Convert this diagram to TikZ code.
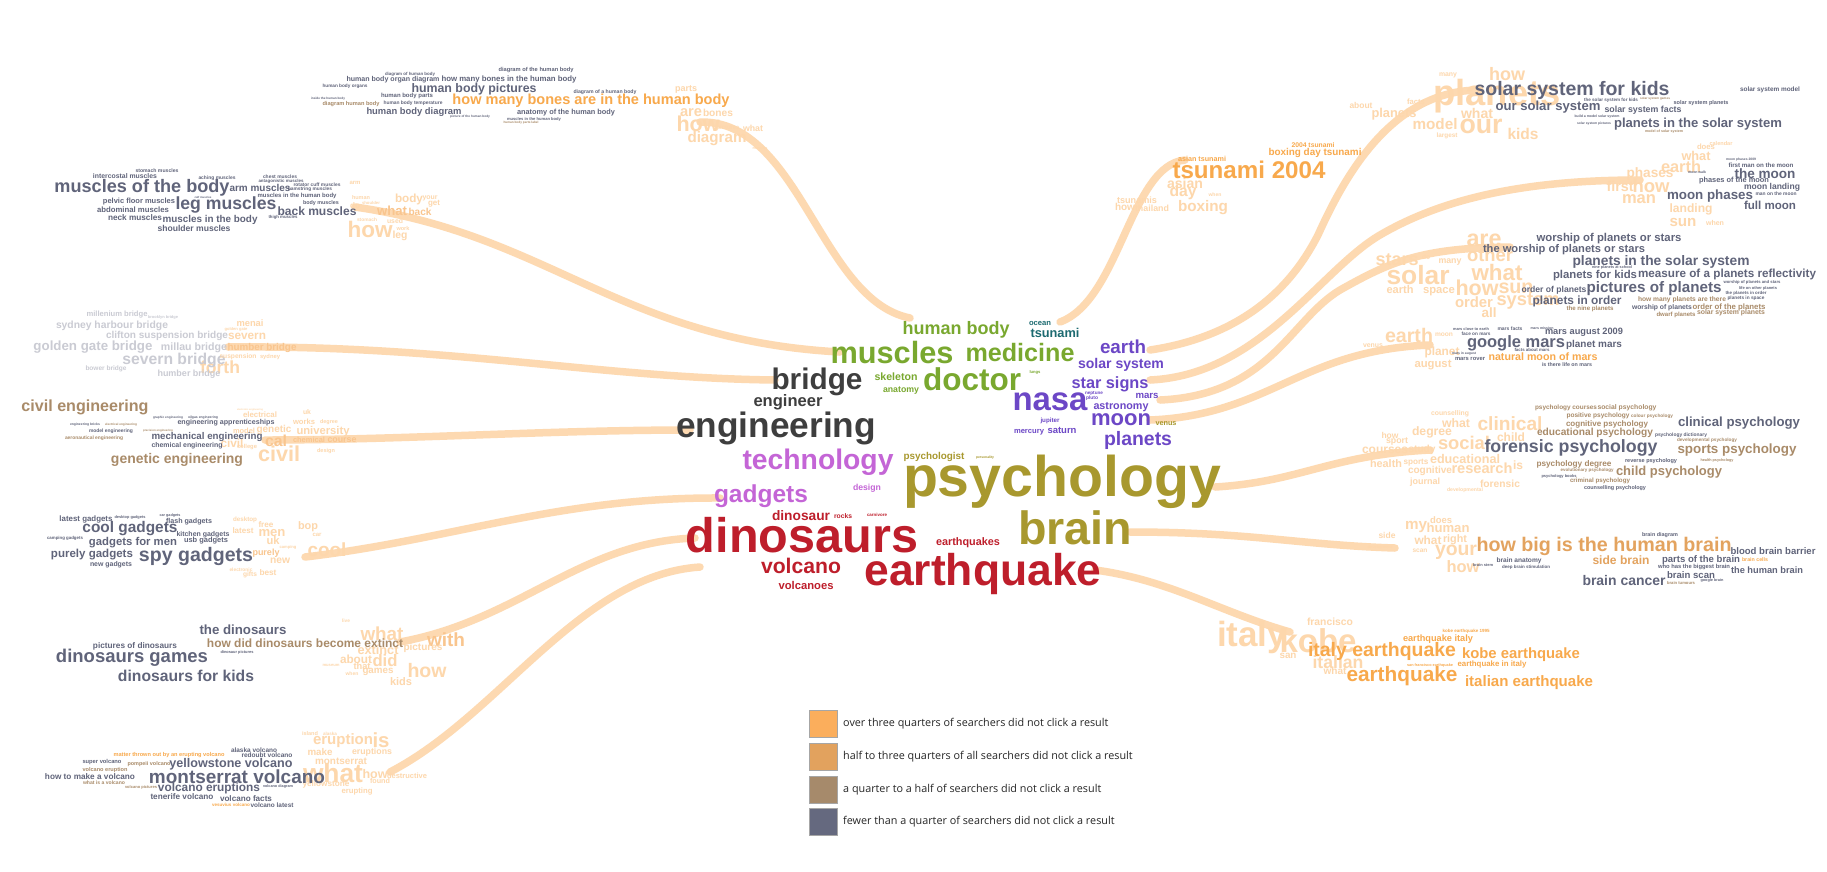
\documentclass[tikz,border=0pt]{standalone}
\usepackage{fontspec}
\usepackage{graphicx}
\setmainfont{Liberation Sans}
\newfontfamily\legfont{Open Sans}
\definecolor{cgreen}{HTML}{79A82F}
\definecolor{cteal}{HTML}{1C6A70}
\definecolor{cpurple}{HTML}{6C47C6}
\definecolor{cdark}{HTML}{3E3E3E}
\definecolor{cmag}{HTML}{C465D6}
\definecolor{colive}{HTML}{A8982E}
\definecolor{cred}{HTML}{BE1E2B}
\definecolor{cg}{HTML}{60647A}
\definecolor{ct}{HTML}{A98B69}
\definecolor{co}{HTML}{F8A94C}
\definecolor{coo}{HTML}{E3A35F}
\definecolor{cf}{HTML}{FDD7AC}
\definecolor{cff}{HTML}{F9C58E}
\definecolor{cfg}{HTML}{CACBD3}
\definecolor{cband}{HTML}{FDD3A4}
\definecolor{lga}{HTML}{FBAE5C}
\definecolor{lgb}{HTML}{E2A25E}
\definecolor{lgc}{HTML}{A68A6B}
\definecolor{lgd}{HTML}{65697F}
\newcommand{\cwd}[6]{\node[cwn,text=#5] (#1) at (#2,#3) {\resizebox{#4pt}{!}{#6}};}
\tikzset{
  cwn/.style={inner sep=0pt, outer sep=0pt, anchor=center, font=\bfseries},
  band/.style={line width=7.5pt, draw=cband, line cap=round, opacity=0.85},
  lbox/.style={minimum width=28pt, minimum height=27pt, inner sep=0pt, draw=black!35, line width=0.6pt},
  ltext/.style={anchor=west, inner sep=0pt, text=black!85, font=\legfont\fontsize{10.8}{12}\selectfont}
}
\begin{document}
\begin{tikzpicture}[x=1pt,y=-1pt]
\fill[white] (0,0) rectangle (1827,871);
\useasboundingbox (0,0) rectangle (1827,871);
% ---------- connectors ----------
\coordinate (hb1) at (700,122); \coordinate (hb2) at (910,318);
\coordinate (mu1) at (355,207); \coordinate (mu2) at (840,352);
\coordinate (br1) at (228,347); \coordinate (br2) at (775,380);
\coordinate (en1) at (265,440); \coordinate (en2) at (690,430);
\coordinate (ga1) at (305,557); \coordinate (ga2) at (720,498);
\coordinate (di1) at (400,642); \coordinate (di2) at (695,538);
\coordinate (vo1) at (390,772); \coordinate (vo2) at (700,567);
\coordinate (ts1) at (1060,322); \coordinate (ts2) at (1185,160);
\coordinate (so1) at (1150,350); \coordinate (so2) at (1480,90);
\coordinate (mo1) at (1150,380); \coordinate (mo2) at (1640,180);
\coordinate (wo1) at (1160,400); \coordinate (wo2) at (1510,247);
\coordinate (ma1) at (1150,420); \coordinate (ma2) at (1430,345);
\coordinate (ps1) at (1215,487); \coordinate (ps2) at (1430,450);
\coordinate (bn1) at (1130,532); \coordinate (bn2) at (1395,548);
\coordinate (eq1) at (1095,570); \coordinate (eq2) at (1290,632);
\draw[band] (hb1) .. controls (800,120) and (820,300) .. (hb2);
\draw[band] (mu1) .. controls (550,235) and (620,340) .. (mu2);
\draw[band] (br1) .. controls (450,345) and (600,378) .. (br2);
\draw[band] (en1) .. controls (400,440) and (550,430) .. (en2);
\draw[band] (ga1) .. controls (450,540) and (560,497) .. (ga2);
\draw[band] (di1) .. controls (520,620) and (580,542) .. (di2);
\draw[band] (vo1) .. controls (500,715) and (580,575) .. (vo2);
\draw[band] (ts1) .. controls (1120,300) and (1130,165) .. (ts2);
\draw[band] (so1) .. controls (1250,335) and (1295,280) .. (1318,235) .. controls (1343,180) and (1390,90) .. (so2);
\draw[band] (mo1) .. controls (1260,375) and (1320,270) .. (1380,235) .. controls (1440,200) and (1520,180) .. (mo2);
\draw[band] (wo1) .. controls (1270,395) and (1290,320) .. (1340,290) .. controls (1390,262) and (1420,248) .. (wo2);
\draw[band] (ma1) .. controls (1270,415) and (1300,350) .. (ma2);
\draw[band] (ps1) .. controls (1300,482) and (1330,455) .. (ps2);
\draw[band] (bn1) .. controls (1250,532) and (1300,545) .. (bn2);
\draw[band] (eq1) .. controls (1170,580) and (1220,612) .. (eq2);
% ---------- centre ----------
\cwd{c1}{956}{330}{107}{cgreen}{human body}
\cwd{c2}{1040}{323}{22}{cteal}{ocean}
\cwd{c3}{1055}{333}{49}{cteal}{tsunami}
\cwd{c4}{892}{353}{123}{cgreen}{muscles}
\cwd{c5}{1020}{353}{109}{cgreen}{medicine}
\cwd{c6}{1123}{347}{46}{cpurple}{earth}
\cwd{c7}{1121}{365}{86}{cpurple}{solar system}
\cwd{c8}{817}{382}{91}{cdark}{bridge}
\cwd{c9}{896}{377}{43}{cgreen}{skeleton}
\cwd{c10}{901}{391}{36}{cgreen}{anatomy}
\cwd{c11}{972}{379}{98}{cgreen}{doctor}
\cwd{c12}{1110}{384}{77}{cpurple}{star signs}
\cwd{c13}{788}{402}{69}{cdark}{engineer}
\cwd{c14}{1050}{402}{75}{cpurple}{nasa}
\cwd{c15}{1147}{396}{23}{cpurple}{mars}
\cwd{c16}{1121}{407}{55}{cpurple}{astronomy}
\cwd{c17}{776}{428}{200}{cdark}{engineering}
\cwd{c18}{1121}{420}{60}{cpurple}{moon}
\cwd{c19}{1166}{424}{21}{colive}{venus}
\cwd{c20}{1050}{421}{19}{cpurple}{jupiter}
\cwd{c21}{1029}{432}{30}{cpurple}{mercury}
\cwd{c22}{1062}{430}{29}{cpurple}{saturn}
\cwd{c23}{1138}{440}{68}{cpurple}{planets}
\cwd{c24}{818}{462}{151}{cmag}{technology}
\cwd{c25}{934}{457}{61}{colive}{psychologist}
\cwd{c26}{985}{458}{18}{colive}{personality}
\cwd{c27}{1062}{482}{318}{colive}{psychology}
\cwd{c28}{761}{496}{94}{cmag}{gadgets}
\cwd{c29}{867}{488}{28}{cmag}{design}
\cwd{c30}{801}{516}{58}{cred}{dinosaur}
\cwd{c31}{843}{516}{18}{cred}{rocks}
\cwd{c32}{877}{515}{20}{cred}{carnivore}
\cwd{c33}{802}{535}{232}{cred}{dinosaurs}
\cwd{c34}{1075}{528}{114}{colive}{brain}
\cwd{c35}{968}{543}{64}{cred}{earthquakes}
\cwd{c36}{801}{566}{80}{cred}{volcano}
\cwd{c37}{983}{574}{237}{cred}{earthquake}
\cwd{c38}{806}{585}{55}{cred}{volcanoes}
\cwd{c39}{1035}{372}{11}{cgreen}{lungs}
\cwd{c40}{1094}{393}{18}{cpurple}{neptune}
\cwd{c41}{1092}{398}{12}{cpurple}{pluto}
% ---------- human body ----------
\cwd{hf1}{686}{89}{22}{cf}{parts}
\cwd{hf2}{691}{113}{22}{cf}{are}
\cwd{hf3}{718}{113}{30}{cf}{bones}
\cwd{hf4}{698}{124}{43}{cf}{how}
\cwd{hf5}{717}{139}{59}{cf}{diagram}
\cwd{hf6}{753}{128}{20}{cf}{what}
\cwd{hf7}{728}{128}{23}{cf}{pictures}
\cwd{hf8}{760}{148}{15}{cf}{muscles}
\cwd{h1}{536}{70}{75}{cg}{diagram of the human body}
\cwd{h2}{410}{74}{50}{cg}{diagram of human body}
\cwd{h3}{393}{80}{93}{cg}{human body organ diagram}
\cwd{h4}{509}{79}{135}{cg}{how many bones in the human body}
\cwd{h5}{345}{86}{45}{cg}{human body organs}
\cwd{h6}{474}{89}{125}{cg}{human body pictures}
\cwd{h7}{605}{92}{63}{cg}{diagram of a human body}
\cwd{h8}{407}{96}{52}{cg}{human body parts}
\cwd{h9}{591}{101}{277}{co}{how many bones are in the human body}
\cwd{h10}{328}{99}{34}{cg}{inside the human body}
\cwd{h11}{351}{104}{57}{ct}{diagram human body}
\cwd{h12}{413}{103}{59}{cg}{human body temperature}
\cwd{h13}{414}{112}{95}{cg}{human body diagram}
\cwd{h14}{566}{113}{98}{cg}{anatomy of the human body}
\cwd{h15}{534}{119}{54}{cg}{muscles in the human body}
\cwd{h16}{521}{123}{35}{ct}{human body parts label}
\cwd{h17}{470}{117}{40}{cg}{picture of the human body}
% ---------- muscles ----------
\cwd{mf1}{409}{199}{28}{cf}{body}
\cwd{mf2}{430}{198}{15}{cf}{your}
\cwd{mf3}{392}{211}{30}{cff}{what}
\cwd{mf4}{370}{229}{45}{cf}{how}
\cwd{mf5}{400}{236}{15}{cf}{leg}
\cwd{mf6}{420}{212}{23}{cff}{back}
\cwd{mf7}{355}{183}{11}{cf}{arm}
\cwd{mf8}{434}{204}{12}{cf}{get}
\cwd{mf9}{355}{206}{10}{cf}{do}
\cwd{mf10}{367}{220}{20}{cf}{stomach}
\cwd{mf11}{395}{221}{16}{cf}{used}
\cwd{mf12}{403}{229}{13}{cf}{work}
\cwd{mf13}{361}{198}{18}{cf}{human}
\cwd{mf14}{371}{203}{18}{cf}{shoulder}
\cwd{u1}{157}{171}{43}{cg}{stomach muscles}
\cwd{u2}{125}{176}{64}{cg}{intercostal muscles}
\cwd{u3}{217}{178}{37}{cg}{aching muscles}
\cwd{u4}{280}{177}{34}{cg}{chest muscles}
\cwd{u5}{281}{181}{45}{cg}{antagonistic muscles}
\cwd{u6}{317}{185}{47}{cg}{rotator cuff muscles}
\cwd{u7}{310}{189}{44}{cg}{hamstring muscles}
\cwd{u8}{142}{188}{175}{cg}{muscles of the body}
\cwd{u9}{260}{188}{61}{cg}{arm muscles}
\cwd{u10}{297}{196}{79}{cg}{muscles in the human body}
\cwd{u11}{139}{202}{72}{cg}{pelvic floor muscles}
\cwd{u12}{203}{197}{17}{cg}{calf muscles}
\cwd{u13}{226}{205}{101}{cg}{leg muscles}
\cwd{u14}{321}{203}{36}{cg}{body muscles}
\cwd{u15}{133}{210}{72}{cg}{abdominal muscles}
\cwd{u16}{317}{211}{79}{cg}{back muscles}
\cwd{u17}{135}{218}{54}{cg}{neck muscles}
\cwd{u18}{210}{220}{95}{cg}{muscles in the body}
\cwd{u19}{194}{228}{73}{cg}{shoulder muscles}
\cwd{u20}{283}{217}{29}{cg}{thigh muscles}
% ---------- bridge ----------
\cwd{b1}{117}{315}{61}{cfg}{millenium bridge}
\cwd{b2}{163}{317}{30}{cfg}{brooklyn bridge}
\cwd{b3}{112}{326}{112}{cfg}{sydney harbour bridge}
\cwd{b4}{250}{323}{27}{cf}{menai}
\cwd{b5}{236}{329}{23}{cf}{golden gate}
\cwd{b6}{167}{336}{122}{cfg}{clifton suspension bridge}
\cwd{b7}{247}{336}{38}{cf}{severn}
\cwd{b8}{93}{347}{119}{cfg}{golden gate bridge}
\cwd{b9}{194}{348}{66}{cfg}{millau bridge}
\cwd{b10}{262}{348}{69}{cff}{humber bridge}
\cwd{b16}{220}{367}{40}{cf}{forth}
\cwd{b11}{174}{360}{103}{cfg}{severn bridge}
\cwd{b12}{238}{357}{37}{cf}{suspension}
\cwd{b13}{270}{357}{20}{cf}{sydney}
\cwd{b14}{106}{369}{41}{cfg}{bower bridge}
\cwd{b15}{189}{374}{63}{cfg}{humber bridge}
% ---------- engineering ----------
\cwd{ef1}{260}{415}{34}{cf}{electrical}
\cwd{ef2}{307}{412}{8}{cf}{uk}
\cwd{ef3}{304}{422}{22}{cf}{works}
\cwd{ef4}{274}{430}{35}{cf}{genetic}
\cwd{ef5}{323}{432}{53}{cf}{university}
\cwd{ef6}{232}{443}{23}{cf}{civil}
\cwd{ef7}{276}{441}{22}{cff}{cal}
\cwd{ef8}{309}{440}{32}{cff}{chemical}
\cwd{ef9}{342}{440}{29}{cff}{course}
\cwd{ef10}{279}{454}{42}{cf}{civil}
\cwd{ef11}{326}{451}{18}{cf}{design}
\cwd{ef12}{244}{431}{22}{cf}{model}
\cwd{ef13}{247}{447}{20}{cf}{college}
\cwd{ef14}{329}{422}{18}{cf}{degree}
\cwd{ef15}{250}{410}{26}{cf}{electronic engineering}
\cwd{e1}{85}{407}{127}{ct}{civil engineering}
\cwd{e2}{226}{423}{97}{cg}{engineering apprenticeships}
\cwd{e3}{85}{425}{30}{cg}{engineering bricks}
\cwd{e4}{121}{425}{32}{ct}{electrical engineering}
\cwd{e5}{111}{431}{44}{cg}{model engineering}
\cwd{e6}{158}{431}{30}{ct}{precision engineering}
\cwd{e7}{207}{437}{111}{cg}{mechanical engineering}
\cwd{e8}{94}{438}{58}{ct}{aeronautical engineering}
\cwd{e9}{187}{446}{71}{cg}{chemical engineering}
\cwd{e10}{177}{460}{132}{ct}{genetic engineering}
\cwd{e11}{168}{418}{30}{cg}{graphic engineering}
\cwd{e12}{203}{418}{30}{cg}{oilgas engineering}
% ---------- gadgets ----------
\cwd{gf1}{243}{531}{21}{cf}{latest}
\cwd{gf2}{266}{525}{15}{cf}{free}
\cwd{gf3}{272}{533}{27}{cf}{men}
\cwd{gf4}{308}{527}{20}{cf}{bop}
\cwd{gf5}{327}{550}{39}{cf}{cool}
\cwd{gf6}{273}{541}{13}{cf}{uk}
\cwd{gf7}{280}{561}{20}{cf}{new}
\cwd{gf8}{268}{573}{17}{cf}{best}
\cwd{gf9}{250}{575}{14}{cf}{gifts}
\cwd{gf10}{241}{570}{23}{cf}{electronic}
\cwd{gf11}{245}{520}{24}{cf}{desktop}
\cwd{gf12}{266}{553}{27}{cff}{purely}
\cwd{gf13}{288}{547}{17}{cf}{camping}
\cwd{gf14}{317}{535}{9}{cf}{car}
\cwd{g1}{86}{519}{53}{cg}{latest gadgets}
\cwd{g2}{130}{517}{31}{cg}{desktop gadgets}
\cwd{g3}{170}{516}{21}{cg}{car gadgets}
\cwd{g4}{189}{522}{46}{cg}{flash gadgets}
\cwd{g5}{130}{529}{95}{cg}{cool gadgets}
\cwd{g6}{203}{535}{53}{cg}{kitchen gadgets}
\cwd{g7}{65}{538}{36}{cg}{camping gadgets}
\cwd{g8}{133}{543}{88}{cg}{gadgets for men}
\cwd{g9}{206}{541}{44}{cg}{usb gadgets}
\cwd{g10}{92}{555}{82}{cg}{purely gadgets}
\cwd{g11}{196}{556}{114}{cg}{spy gadgets}
\cwd{g12}{111}{565}{42}{cg}{new gadgets}
% ---------- dinosaurs ----------
\cwd{df1}{382}{634}{43}{cf}{what}
\cwd{df2}{446}{640}{38}{cff}{with}
\cwd{df3}{378}{650}{41}{cf}{extinct}
\cwd{df4}{423}{648}{39}{cf}{pictures}
\cwd{df5}{356}{659}{32}{cf}{about}
\cwd{df6}{385}{661}{25}{cf}{did}
\cwd{df7}{427}{671}{39}{cf}{how}
\cwd{df8}{378}{672}{31}{cf}{games}
\cwd{df9}{401}{682}{22}{cf}{kids}
\cwd{df10}{362}{666}{17}{cf}{that}
\cwd{df11}{346}{621}{8}{cf}{live}
\cwd{df12}{352}{674}{13}{cf}{when}
\cwd{df13}{331}{665}{17}{cf}{museum}
\cwd{d1}{243}{630}{87}{cg}{the dinosaurs}
\cwd{d2}{305}{643}{196}{ct}{how did dinosaurs become extinct}
\cwd{d3}{135}{646}{84}{cg}{pictures of dinosaurs}
\cwd{d4}{132}{658}{152}{cg}{dinosaurs games}
\cwd{d5}{186}{676}{136}{cg}{dinosaurs for kids}
\cwd{d6}{237}{652}{33}{cg}{dinosaur pictures}
% ---------- volcano ----------
\cwd{vf1}{310}{734}{16}{cf}{island}
\cwd{vf2}{330}{734}{14}{cf}{alaska}
\cwd{vf3}{343}{741}{60}{cf}{eruption}
\cwd{vf4}{381}{740}{17}{cf}{is}
\cwd{vf5}{320}{752}{25}{cf}{make}
\cwd{vf6}{372}{752}{40}{cf}{eruptions}
\cwd{vf7}{341}{761}{52}{cf}{montserrat}
\cwd{vf8}{333}{773}{60}{cf}{what}
\cwd{vf9}{375}{774}{25}{cf}{how}
\cwd{vf10}{407}{776}{40}{cf}{destructive}
\cwd{vf11}{326}{784}{47}{cf}{yellowstone}
\cwd{vf12}{357}{791}{31}{cf}{erupting}
\cwd{vf13}{380}{781}{20}{cf}{found}
\cwd{v1}{254}{750}{46}{cg}{alaska volcano}
\cwd{v2}{169}{755}{111}{co}{matter thrown out by an erupting volcano}
\cwd{v3}{267}{755}{51}{cg}{redoubt volcano}
\cwd{v4}{102}{762}{39}{cg}{super volcano}
\cwd{v5}{149}{764}{43}{ct}{pompeii volcano}
\cwd{v6}{231}{764}{123}{cg}{yellowstone volcano}
\cwd{v7}{105}{770}{45}{ct}{volcano eruption}
\cwd{v8}{90}{777}{90}{cg}{how to make a volcano}
\cwd{v9}{237}{777}{176}{cg}{montserrat volcano}
\cwd{v10}{104}{783}{42}{ct}{what is a volcano}
\cwd{v11}{209}{788}{102}{cg}{volcano eruptions}
\cwd{v12}{182}{797}{63}{cg}{tenerife volcano}
\cwd{v13}{246}{799}{52}{cg}{volcano facts}
\cwd{v14}{231}{805}{38}{co}{vesuvius volcano}
\cwd{v15}{272}{805}{43}{cg}{volcano latest}
\cwd{v17}{141}{787}{32}{ct}{volcano pictures}
\cwd{v18}{278}{787}{30}{cg}{volcano diagram}
% ---------- tsunami ----------
\cwd{tf1}{1185}{183}{36}{cf}{asian}
\cwd{tf2}{1183}{192}{27}{cf}{day}
\cwd{tf3}{1203}{208}{50}{cf}{boxing}
\cwd{tf4}{1125}{207}{20}{cf}{how}
\cwd{tf5}{1152}{208}{34}{cf}{thailand}
\cwd{tf6}{1137}{200}{40}{cf}{tsunamis}
\cwd{tf7}{1215}{195}{13}{cf}{when}
\cwd{t1}{1249}{170}{153}{co}{tsunami 2004}
\cwd{t2}{1313}{145}{43}{co}{2004 tsunami}
\cwd{t3}{1315}{153}{93}{co}{boxing day tsunami}
\cwd{t4}{1202}{159}{48}{co}{asian tsunami}
% ---------- solar system ----------
\cwd{sf1}{1507}{74}{36}{cf}{how}
\cwd{sf2}{1497}{96}{127}{cf}{planets}
\cwd{sf3}{1477}{113}{32}{cf}{what}
\cwd{sf4}{1481}{126}{43}{cf}{our}
\cwd{sf5}{1435}{124}{45}{cf}{model}
\cwd{sf6}{1523}{134}{31}{cf}{kids}
\cwd{sf7}{1394}{114}{45}{cf}{planets}
\cwd{sf8}{1361}{105}{23}{cf}{about}
\cwd{sf9}{1416}{102}{18}{cf}{facts}
\cwd{sf10}{1448}{75}{18}{cf}{many}
\cwd{sf11}{1447}{136}{21}{cf}{largest}
\cwd{s1}{1572}{90}{195}{cg}{solar system for kids}
\cwd{s2}{1770}{90}{60}{cg}{solar system model}
\cwd{s3}{1611}{100}{54}{cg}{the solar system for kids}
\cwd{s10}{1655}{99}{30}{ct}{solar system games}
\cwd{s4}{1701}{103}{55}{cg}{solar system planets}
\cwd{s5}{1548}{107}{105}{cg}{our solar system}
\cwd{s6}{1643}{110}{77}{cg}{solar system facts}
\cwd{s7}{1597}{117}{45}{cg}{build a model solar system}
\cwd{s11}{1594}{124}{34}{cg}{solar system pictures}
\cwd{s8}{1698}{124}{168}{cg}{planets in the solar system}
\cwd{s9}{1664}{132}{38}{ct}{model of solar system}
% ---------- moon ----------
\cwd{nf1}{1696}{156}{29}{cf}{what}
\cwd{nf2}{1706}{147}{18}{cf}{does}
\cwd{nf3}{1681}{167}{40}{cf}{earth}
\cwd{nf4}{1650}{174}{47}{cf}{phases}
\cwd{nf5}{1651}{186}{37}{cf}{how}
\cwd{nf6}{1639}{199}{34}{cf}{man}
\cwd{nf7}{1691}{209}{43}{cf}{landing}
\cwd{nf8}{1683}{222}{27}{cf}{sun}
\cwd{nf9}{1620}{186}{27}{cf}{first}
\cwd{nf10}{1715}{223}{18}{cf}{when}
\cwd{nf11}{1721}{143}{23}{cf}{calendar}
\cwd{m7}{1741}{160}{30}{cg}{moon phases 2009}
\cwd{m1}{1761}{165}{65}{cg}{first man on the moon}
\cwd{m2}{1765}{174}{61}{cg}{the moon}
\cwd{m9}{1697}{172}{18}{cg}{moon walk}
\cwd{m3}{1734}{181}{70}{cg}{phases of the moon}
\cwd{m4}{1772}{187}{56}{cg}{moon landing}
\cwd{m8}{1776}{194}{41}{cg}{man on the moon}
\cwd{m5}{1710}{196}{86}{cg}{moon phases}
\cwd{m6}{1770}{205}{52}{cg}{full moon}
% ---------- planets ----------
\cwd{pf1}{1484}{240}{35}{cf}{are}
\cwd{pf2}{1490}{255}{46}{cf}{other}
\cwd{pf3}{1397}{260}{43}{cf}{stars}
\cwd{pf4}{1418}{275}{63}{cf}{solar}
\cwd{pf5}{1497}{272}{51}{cf}{what}
\cwd{pf6}{1477}{288}{43}{cf}{how}
\cwd{pf7}{1516}{288}{35}{cf}{sun}
\cwd{pf8}{1439}{292}{32}{cf}{space}
\cwd{pf9}{1400}{290}{27}{cf}{earth}
\cwd{pf10}{1474}{302}{38}{cf}{order}
\cwd{pf11}{1528}{301}{63}{cf}{system}
\cwd{pf12}{1489}{313}{15}{cf}{all}
\cwd{pf13}{1450}{262}{23}{cf}{many}
\cwd{pf14}{1426}{257}{8}{cf}{do}
\cwd{p1}{1609}{239}{145}{cg}{worship of planets or stars}
\cwd{p2}{1564}{250}{162}{cg}{the worship of planets or stars}
\cwd{p3}{1661}{262}{177}{cg}{planets in the solar system}
\cwd{p4}{1612}{268}{40}{cg}{nine planets at school}
\cwd{p5}{1595}{276}{84}{cg}{planets for kids}
\cwd{p6}{1727}{274}{178}{cg}{measure of a planets reflectivity}
\cwd{p7}{1752}{282}{57}{cg}{worship of planets and stars}
\cwd{p8}{1758}{288}{38}{cg}{life on other planets}
\cwd{p9}{1554}{290}{65}{cg}{order of planets}
\cwd{p10}{1654}{289}{135}{cg}{pictures of planets}
\cwd{p11}{1746}{293}{41}{cg}{the planets in order}
\cwd{p12}{1577}{301}{89}{cg}{planets in order}
\cwd{p13}{1682}{300}{88}{ct}{how many planets are there}
\cwd{p14}{1746}{298}{37}{cg}{planets in space}
\cwd{p15}{1662}{308}{60}{cg}{worship of planets}
\cwd{p16}{1729}{307}{73}{ct}{order of the planets}
\cwd{p17}{1590}{309}{47}{ct}{the nine planets}
\cwd{p18}{1676}{315}{39}{ct}{dwarf planets}
\cwd{p19}{1731}{313}{68}{ct}{solar system planets}
% ---------- mars ----------
\cwd{af1}{1409}{335}{48}{cf}{earth}
\cwd{af2}{1444}{335}{18}{cf}{moon}
\cwd{af3}{1442}{352}{35}{cf}{planet}
\cwd{af4}{1433}{365}{37}{cf}{august}
\cwd{af5}{1373}{346}{20}{cf}{venus}
\cwd{a1}{1584}{332}{78}{cg}{mars august 2009}
\cwd{a2}{1510}{329}{25}{cg}{mars facts}
\cwd{a3}{1471}{329}{36}{cg}{mars close to earth}
\cwd{a4}{1542}{328}{23}{cg}{mars mission}
\cwd{a5}{1476}{334}{29}{cg}{face on mars}
\cwd{a6}{1516}{343}{98}{cg}{google mars}
\cwd{a7}{1594}{345}{56}{cg}{planet mars}
\cwd{a8}{1532}{350}{35}{cg}{facts about mars}
\cwd{a9}{1464}{354}{24}{cg}{mars in august}
\cwd{a10}{1470}{359}{30}{cg}{mars rover}
\cwd{a11}{1543}{357}{109}{co}{natural moon of mars}
\cwd{a12}{1567}{365}{50}{cg}{is there life on mars}
% ---------- psychology ----------
\cwd{yf1}{1510}{424}{65}{cf}{clinical}
\cwd{yf2}{1464}{443}{52}{cf}{social}
\cwd{yf3}{1511}{437}{28}{cf}{child}
\cwd{yf4}{1456}{423}{28}{cf}{what}
\cwd{yf5}{1432}{432}{40}{cf}{degree}
\cwd{yf6}{1450}{414}{38}{cf}{counselling}
\cwd{yf7}{1385}{450}{46}{cf}{courses}
\cwd{yf8}{1422}{450}{27}{cf}{study}
\cwd{yf9}{1386}{464}{32}{cf}{health}
\cwd{yf10}{1416}{463}{25}{cf}{sports}
\cwd{yf11}{1465}{459}{70}{cf}{educational}
\cwd{yf12}{1482}{468}{61}{cf}{research}
\cwd{yf13}{1430}{471}{44}{cf}{cognitive}
\cwd{yf14}{1518}{465}{10}{cf}{is}
\cwd{yf15}{1390}{435}{17}{cf}{how}
\cwd{yf16}{1397}{442}{22}{cf}{sport}
\cwd{yf17}{1425}{482}{30}{cf}{journal}
\cwd{yf18}{1500}{484}{40}{cf}{forensic}
\cwd{yf19}{1465}{490}{36}{cf}{developmental}
\cwd{y1}{1566}{408}{62}{ct}{psychology courses}
\cwd{y2}{1627}{408}{59}{ct}{social psychology}
\cwd{y3}{1598}{416}{63}{ct}{positive psychology}
\cwd{y4}{1652}{416}{42}{ct}{colour psychology}
\cwd{y5}{1607}{424}{82}{ct}{cognitive psychology}
\cwd{y6}{1739}{423}{122}{cg}{clinical psychology}
\cwd{y7}{1595}{433}{116}{ct}{educational psychology}
\cwd{y8}{1681}{435}{52}{cg}{psychology dictionary}
\cwd{y9}{1707}{440}{60}{ct}{developmental psychology}
\cwd{y10}{1571}{448}{173}{cg}{forensic psychology}
\cwd{y11}{1737}{450}{119}{ct}{sports psychology}
\cwd{y12}{1574}{464}{75}{ct}{psychology degree}
\cwd{y13}{1651}{461}{52}{cg}{reverse psychology}
\cwd{y14}{1717}{461}{33}{ct}{health psychology}
\cwd{y15}{1669}{472}{106}{ct}{child psychology}
\cwd{y16}{1587}{470}{53}{ct}{evolutionary psychology}
\cwd{y17}{1559}{476}{35}{cg}{psychology books}
\cwd{y18}{1600}{481}{60}{ct}{criminal psychology}
\cwd{y19}{1615}{488}{62}{cg}{counselling psychology}
% ---------- brain ----------
\cwd{rf1}{1441}{520}{22}{cf}{does}
\cwd{rf2}{1416}{527}{22}{cf}{my}
\cwd{rf3}{1448}{528}{43}{cf}{human}
\cwd{rf4}{1387}{535}{17}{cf}{side}
\cwd{rf5}{1428}{540}{27}{cf}{what}
\cwd{rf6}{1455}{540}{24}{cf}{right}
\cwd{rf7}{1456}{552}{42}{cf}{your}
\cwd{rf8}{1463}{567}{33}{cf}{how}
\cwd{rf9}{1380}{547}{25}{cf}{development}
\cwd{rf10}{1420}{551}{15}{cf}{scan}
\cwd{r1}{1660}{535}{36}{cg}{brain diagram}
\cwd{r2}{1604}{546}{255}{coo}{how big is the human brain}
\cwd{r3}{1773}{551}{85}{cg}{blood brain barrier}
\cwd{r4}{1519}{561}{45}{cg}{brain anatomy}
\cwd{r5}{1621}{560}{57}{coo}{side brain}
\cwd{r6}{1701}{560}{78}{cg}{parts of the brain}
\cwd{r7}{1755}{560}{26}{co}{brain cells}
\cwd{r8}{1483}{565}{20}{cg}{brain stem}
\cwd{r9}{1526}{567}{48}{cg}{deep brain stimulation}
\cwd{r10}{1694}{567}{72}{cg}{who has the biggest brain}
\cwd{r11}{1767}{570}{72}{cg}{the human brain}
\cwd{r12}{1691}{575}{48}{cg}{brain scan}
\cwd{r13}{1624}{580}{83}{cg}{brain cancer}
\cwd{r14}{1681}{583}{28}{ct}{brain tumours}
\cwd{r15}{1712}{581}{23}{cg}{google brain}
% ---------- earthquake ----------
\cwd{qf1}{1252}{637}{70}{cf}{italy}
\cwd{qf2}{1318}{641}{77}{cf}{kobe}
\cwd{qf3}{1338}{662}{51}{cf}{italian}
\cwd{qf4}{1330}{622}{46}{cf}{francisco}
\cwd{qf5}{1335}{671}{23}{cf}{what}
\cwd{qf6}{1288}{656}{17}{cf}{san}
\cwd{q2}{1466}{631}{47}{co}{kobe earthquake 1995}
\cwd{q3}{1438}{639}{70}{co}{earthquake italy}
\cwd{q4}{1382}{651}{148}{co}{italy earthquake}
\cwd{q5}{1521}{655}{118}{co}{kobe earthquake}
\cwd{q6}{1492}{664}{69}{co}{earthquake in italy}
\cwd{q7}{1430}{665}{46}{co}{san francisco earthquake}
\cwd{q8}{1402}{676}{111}{co}{earthquake}
\cwd{q9}{1529}{683}{128}{co}{italian earthquake}
% ---------- legend ----------
\node[lbox,fill=lga] (k1) at (823,723.5) {};
\node[lbox,fill=lgb] (k2) at (823,756.5) {};
\node[lbox,fill=lgc] (k3) at (823,789.5) {};
\node[lbox,fill=lgd] (k4) at (823,822) {};
\node[ltext] (k1t) at (843,724) {over three quarters of searchers did not click a result};
\node[ltext] (k2t) at (843,757) {half to three quarters of all searchers did not click a result};
\node[ltext] (k3t) at (843,790) {a quarter to a half of searchers did not click a result};
\node[ltext] (k4t) at (843,822) {fewer than a quarter of searchers did not click a result};
\end{tikzpicture}
\end{document}
